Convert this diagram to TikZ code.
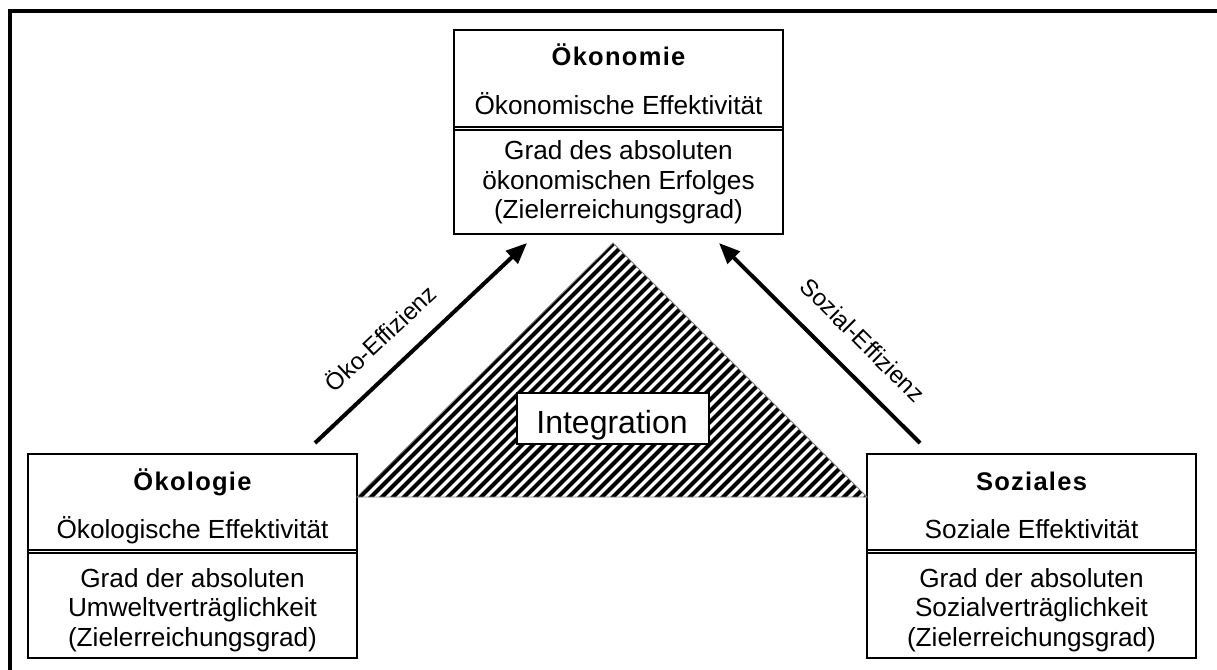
\documentclass[tikz,border=0pt]{standalone}
\usepackage{fontspec}
\setmainfont{Liberation Sans}
\newfontfamily\headfont[LetterSpace=5]{Liberation Sans}
\usetikzlibrary{arrows.meta,calc}
\begin{document}
\begin{tikzpicture}[x=1pt,y=-1pt,
  pillar/.style={draw=black, line width=1.4pt, fill=white, inner sep=0pt,
    minimum width=329pt, minimum height=204pt},
  rule/.style={draw=black, line width=1.3pt},
  head/.style={font=\fontsize{25.5}{29}\selectfont\headfont\bfseries, anchor=base, inner sep=0pt},
  txt/.style={font=\fontsize{26.2}{29}\selectfont, anchor=base, inner sep=0pt},
  flow/.style={line width=4pt, -{Triangle[length=21pt,width=17pt]}},
  flowback/.style={line width=4pt, {Triangle[length=21pt,width=17pt]}-},
  lbl/.style={font=\fontsize{24}{28}\selectfont, inner sep=0pt},
  hatch/.style={line width=4.2pt, black},
]
% page and outer frame
\fill[white] (0,0) rectangle (1217,669);
\useasboundingbox (0,0) rectangle (1217,669);
\draw[line width=3.2pt] (10,720) -- (10,11) -- (1260,11);

% the three pillars
\node[pillar] (econ) at (618.5,132) {};
\node[pillar] (eco)  at (192.5,556) {};
\node[pillar] (soc)  at (1031.5,556) {};

% double separators
\draw[rule] (econ.west |- 0,127) -- (econ.east |- 0,127);
\draw[rule] (econ.west |- 0,130) -- (econ.east |- 0,130);
\draw[rule] (eco.west |- 0,550) -- (eco.east |- 0,550);
\draw[rule] (eco.west |- 0,553) -- (eco.east |- 0,553);
\draw[rule] (soc.west |- 0,550) -- (soc.east |- 0,550);
\draw[rule] (soc.west |- 0,553) -- (soc.east |- 0,553);

% texts: Ökonomie
\node[head] (econT) at (618.5,65) {Ökonomie};
\node[txt] (econE) at (618.5,114) {Ökonomische Effektivität};
\node[txt] (econA) at (618.5,159) {Grad des absoluten};
\node[txt] (econB) at (618.5,189) {ökonomischen Erfolges};
\node[txt] (econC) at (618.5,218) {(Zielerreichungsgrad)};

% texts: Ökologie
\node[head] (ecoT) at (192.5,490) {Ökologie};
\node[txt] (ecoE) at (192.5,538) {Ökologische Effektivität};
\node[txt] (ecoA) at (192.5,587) {Grad der absoluten};
\node[txt] (ecoB) at (192.5,616.5) {Umweltverträglichkeit};
\node[txt] (ecoC) at (192.5,646) {(Zielerreichungsgrad)};

% texts: Soziales
\node[head] (socT) at (1031.5,490) {Soziales};
\node[txt] (socE) at (1031.5,538) {Soziale Effektivität};
\node[txt] (socA) at (1031.5,587) {Grad der absoluten};
\node[txt] (socB) at (1031.5,616.5) {Sozialverträglichkeit};
\node[txt] (socC) at (1031.5,646) {(Zielerreichungsgrad)};

% hatched integration triangle
\coordinate (triL) at (357,497);
\coordinate (triT) at (613,243);
\coordinate (triR) at (867,497);
\begin{scope}
  \clip (triL) -- (triT) -- (triR) -- cycle;
  \foreach \c in {336,347,...,880}
    \draw[hatch] (\c,510) -- ++(300,-300);
\end{scope}
\draw[gray, line width=0.9pt] (triL) -- (triT) -- (triR) -- cycle;

\node[draw=black, line width=1.4pt, fill=white, minimum width=192pt,
  minimum height=51pt, inner sep=0pt] (integ) at (613,418.5) {};
\node[font=\fontsize{32}{36}\selectfont, anchor=base, inner sep=0pt] (integT)
  at (612,433) {Integration};

% efficiency arrows
\coordinate (ecoTail) at (315,443);
\coordinate (ecoTip)  at (527,243);
\coordinate (socTail) at (920,443);
\coordinate (socTip)  at (719,243);
\draw[flow] (ecoTail) -- (ecoTip)
  node[lbl, pos=0.41, sloped, above=20pt] {Öko-Effizienz};
\draw[flowback] (socTip) -- (socTail)
  node[lbl, pos=0.6, sloped, above=22pt] {Sozial-Effizienz};
\end{tikzpicture}
\end{document}
